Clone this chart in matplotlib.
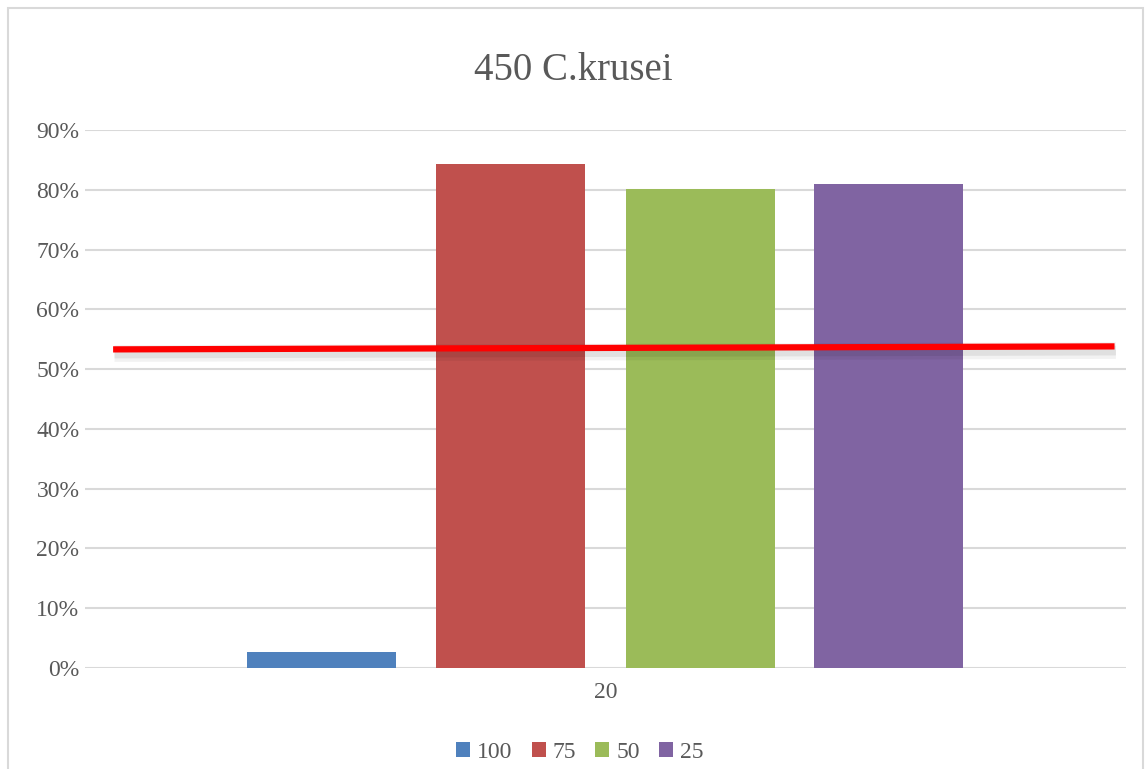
import matplotlib.pyplot as plt
import matplotlib.patheffects as pe
from matplotlib.patches import Rectangle
from matplotlib.ticker import PercentFormatter

# data
categories = ['20']
series = ['100', '75', '50', '25']
values = [0.027, 0.843, 0.801, 0.809]
colors = ['#4f81bd', '#c0504d', '#9bbb59', '#8064a2']
offsets = [-0.273, -0.091, 0.091, 0.272]

# hand drawn red reference line
line_x = [-0.473, 0.489]
line_y = [0.533, 0.538]

plt.rcParams['font.family'] = ['Liberation Serif', 'DejaVu Serif']
text_col = '#595959'

fig = plt.figure(figsize=(11.46, 7.69), dpi=100)
fig.patches.append(Rectangle((8 / 1146, -0.05), 1135 / 1146, 1 - 8 / 769 + 0.05,
                             transform=fig.transFigure, fill=False,
                             edgecolor='#d9d9d9', linewidth=1.5))

ax = fig.add_axes([85 / 1146, 1 - 668 / 769, 1041 / 1146, 538 / 769])
for name, val, col, off in zip(series, values, colors, offsets):
    ax.bar(off, val, width=0.143, color=col, label=name, zorder=2)

ax.plot(line_x, line_y, color='#ff0000', linewidth=4.5, solid_capstyle='butt', zorder=3,
        path_effects=[pe.SimpleLineShadow(offset=(1, -3), shadow_color='black', alpha=0.05, linewidth=12),
                      pe.SimpleLineShadow(offset=(1, -3), shadow_color='black', alpha=0.07, linewidth=7),
                      pe.Normal()])

ax.set_xlim(-0.5, 0.5)
ax.set_ylim(0, 0.9)
ax.set_xticks([0])
ax.set_xticklabels(categories)
ax.set_yticks([i / 10 for i in range(10)])
ax.yaxis.set_major_formatter(PercentFormatter(1.0, decimals=0))
ax.tick_params(length=0, labelsize=17, colors=text_col, pad=4)
ax.tick_params(axis='x', pad=10)
ax.grid(axis='y', color='#d9d9d9', linewidth=1.5, zorder=0)
ax.set_axisbelow(True)
for s in ax.spines.values():
    s.set_visible(False)

fig.text(0.5, 1 - 70 / 769, '450 C.krusei', ha='center', va='center',
         fontsize=28, color=text_col)

fig.legend(loc='center', bbox_to_anchor=(0.506, 1 - 752 / 769), ncol=4, frameon=False,
           fontsize=17, labelcolor=text_col, handlelength=0.6, handleheight=0.6,
           handletextpad=0.3, columnspacing=0.8)

fig.savefig('out.png', dpi=100)
